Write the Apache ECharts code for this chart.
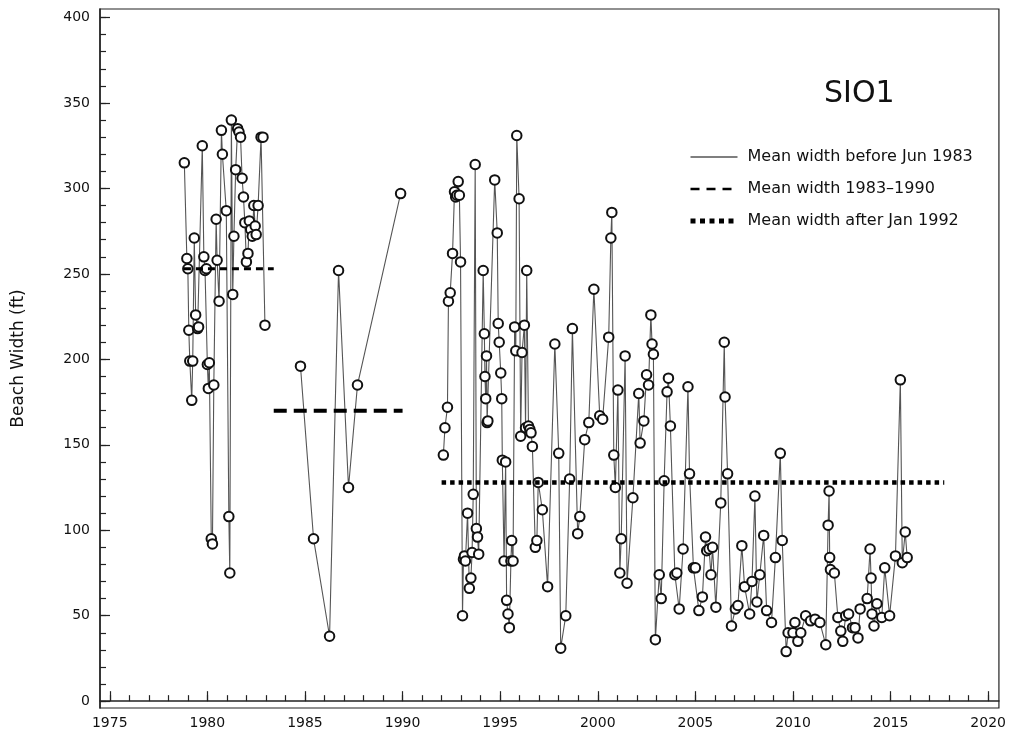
<!DOCTYPE html>
<html>
<head>
<meta charset="utf-8">
<title>SIO1 beach width</title>
<script src="https://cdn.jsdelivr.net/npm/echarts@6/dist/echarts.min.js"></script>
<style>
  html, body { margin: 0; padding: 0; background: #fff; }
  #chart { width: 1009px; height: 746px; }
</style>
</head>
<body>
<div id="chart"></div>
<script>
// survey data, [year, beach width ft]
const survey1979 = [
  [1978.82, 315], [1978.95, 259], [1979.0, 253], [1979.05, 217], [1979.1, 199], [1979.2, 176],
  [1979.25, 199], [1979.33, 271], [1979.4, 226], [1979.5, 218], [1979.55, 219], [1979.74, 325],
  [1979.82, 260], [1979.88, 252], [1979.95, 253], [1980.0, 197], [1980.05, 183], [1980.1, 198],
  [1980.2, 95], [1980.26, 92], [1980.33, 185], [1980.45, 282], [1980.5, 258], [1980.6, 234],
  [1980.72, 334], [1980.77, 320], [1980.97, 287], [1981.1, 108], [1981.15, 75], [1981.23, 340],
  [1981.3, 238], [1981.36, 272], [1981.45, 311], [1981.55, 335], [1981.62, 333], [1981.7, 330],
  [1981.78, 306], [1981.85, 295], [1981.92, 280], [1982.0, 257], [1982.08, 262], [1982.15, 281],
  [1982.22, 276], [1982.3, 272], [1982.38, 290], [1982.45, 278], [1982.5, 273], [1982.6, 290],
  [1982.75, 330], [1982.85, 330], [1982.95, 220]
];
const survey1985 = [
  [1984.77, 196], [1985.44, 95], [1986.26, 38], [1986.72, 252], [1987.23, 125], [1987.69, 185], [1989.9, 297]
];
const survey1992 = [
  [1992.09, 144], [1992.17, 160], [1992.3, 172], [1992.35, 234], [1992.44, 239], [1992.56, 262],
  [1992.66, 298], [1992.72, 295], [1992.78, 296], [1992.85, 304], [1992.91, 296], [1992.97, 257],
  [1993.07, 50], [1993.12, 83], [1993.17, 85], [1993.22, 82], [1993.33, 110], [1993.42, 66],
  [1993.5, 72], [1993.56, 87], [1993.62, 121], [1993.72, 314], [1993.78, 101], [1993.84, 96],
  [1993.9, 86], [1994.13, 252], [1994.19, 215], [1994.22, 190], [1994.26, 177], [1994.3, 202],
  [1994.33, 163], [1994.37, 164], [1994.72, 305], [1994.85, 274], [1994.9, 221], [1994.95, 210],
  [1995.03, 192], [1995.08, 177], [1995.11, 141], [1995.2, 82], [1995.28, 140], [1995.33, 59],
  [1995.4, 51], [1995.47, 43], [1995.55, 82], [1995.59, 94], [1995.66, 82], [1995.74, 219],
  [1995.8, 205], [1995.85, 331], [1995.97, 294], [1996.05, 155], [1996.12, 204], [1996.24, 220],
  [1996.3, 160], [1996.36, 252], [1996.45, 161], [1996.52, 159], [1996.58, 157], [1996.65, 149],
  [1996.8, 90], [1996.88, 94], [1996.95, 128], [1997.16, 112], [1997.43, 67], [1997.8, 209],
  [1998.0, 145], [1998.1, 31], [1998.36, 50], [1998.56, 130], [1998.7, 218], [1998.97, 98],
  [1999.08, 108], [1999.33, 153], [1999.54, 163], [1999.8, 241], [2000.1, 167], [2000.25, 165],
  [2000.56, 213], [2000.67, 271], [2000.72, 286], [2000.82, 144], [2000.9, 125], [2001.03, 182],
  [2001.13, 75], [2001.2, 95], [2001.4, 202], [2001.5, 69], [2001.8, 119], [2002.1, 180],
  [2002.17, 151], [2002.36, 164], [2002.5, 191], [2002.6, 185], [2002.72, 226], [2002.78, 209],
  [2002.85, 203], [2002.95, 36], [2003.15, 74], [2003.25, 60], [2003.4, 129], [2003.55, 181],
  [2003.62, 189], [2003.72, 161], [2003.95, 74], [2004.05, 75], [2004.17, 54], [2004.37, 89],
  [2004.62, 184], [2004.7, 133], [2004.9, 78], [2005.0, 78], [2005.18, 53], [2005.36, 61],
  [2005.52, 96], [2005.58, 88], [2005.7, 89], [2005.8, 74], [2005.88, 90], [2006.05, 55],
  [2006.3, 116], [2006.48, 210], [2006.52, 178], [2006.65, 133], [2006.85, 44], [2007.05, 54],
  [2007.18, 56], [2007.38, 91], [2007.52, 67], [2007.78, 51], [2007.9, 70], [2008.05, 120],
  [2008.15, 58], [2008.3, 74], [2008.5, 97], [2008.65, 53], [2008.9, 46], [2009.1, 84],
  [2009.35, 145], [2009.45, 94], [2009.65, 29], [2009.75, 40], [2010.0, 40], [2010.1, 46],
  [2010.25, 35], [2010.4, 40], [2010.65, 50], [2010.9, 47], [2011.13, 48], [2011.38, 46],
  [2011.68, 33], [2011.8, 103], [2011.85, 123], [2011.88, 84], [2011.92, 77], [2012.12, 75],
  [2012.3, 49], [2012.45, 41], [2012.55, 35], [2012.7, 50], [2012.85, 51], [2013.05, 43],
  [2013.18, 43], [2013.33, 37], [2013.44, 54], [2013.8, 60], [2013.95, 89], [2014.0, 72],
  [2014.05, 51], [2014.15, 44], [2014.3, 57], [2014.55, 49], [2014.7, 78], [2014.95, 50],
  [2015.25, 85], [2015.5, 188], [2015.6, 81], [2015.75, 99], [2015.85, 84]
];

// mean widths and the years they cover
const meanNames = ['Mean width before Jun 1983', 'Mean width 1983\u20131990', 'Mean width after Jan 1992'];
const meanValues = [253, 170, 128];
const meanSpans = [[1978.8, 1983.4], [1983.4, 1990.0], [1992.0, 2017.75]];

const yearLabels = [1975, 1980, 1985, 1990, 1995, 2000, 2005, 2010, 2015, 2020];
const yearTicks = [];
for (let y = 1975; y <= 2020; y++) yearTicks.push(y);
const widthLabels = [0, 50, 100, 150, 200, 250, 300, 350, 400];
const widthTicks = [];
for (let v = 0; v <= 400; v += 10) widthTicks.push(v);

const FONT = 'DejaVu Sans';
const meanStyles = [
  { width: 3, type: [7, 5] },
  { width: 4, type: [13, 7] },
  { width: 4.5, type: [4.5, 4] }
];
// the key shows the means drawn differently from the plot
const keyStyles = [
  { width: 1.2, type: 'solid' },
  { width: 2.5, type: [9, 7] },
  { width: 5, type: [5, 4.5] }
];

const surveySeries = [survey1979, survey1985, survey1992].map(d => ({
  type: 'line',
  data: d,
  symbol: 'emptyCircle',
  symbolSize: 9.5,
  showSymbol: true,
  lineStyle: { color: '#555', width: 1.1 },
  itemStyle: { color: '#111', borderColor: '#111', borderWidth: 1.3 },
  z: 2
}));

const meanSeries = meanValues.map((v, i) => ({
  name: meanNames[i],
  type: 'line',
  data: [[meanSpans[i][0], v], [meanSpans[i][1], v]],
  symbol: 'none',
  color: '#000',
  itemStyle: { color: '#000' },
  lineStyle: { color: '#000', width: meanStyles[i].width, type: meanStyles[i].type, cap: 'butt' },
  z: 3
}));

const chart = echarts.init(document.getElementById('chart'));
chart.setOption({
  animation: false,
  backgroundColor: '#fff',
  textStyle: { fontFamily: FONT },
  title: {
    text: 'SIO1',
    left: 819,
    top: 74,
    textStyle: { fontFamily: FONT, fontSize: 30, fontWeight: 'normal', color: '#111' }
  },
  grid: {
    left: 100, right: 10, top: 9, bottom: 38,
    show: true, borderColor: '#222', borderWidth: 1.2, backgroundColor: 'transparent'
  },
  xAxis: [
    {
      type: 'value', min: 1974.5, max: 2020.55, position: 'bottom',
      axisLine: { show: true, lineStyle: { color: '#222', width: 1.5 } },
      axisTick: { show: true, inside: true, length: 10, customValues: yearLabels, lineStyle: { color: '#222', width: 1.2 } },
      axisLabel: { customValues: yearLabels, margin: 8, fontFamily: FONT, fontSize: 14, color: '#111', formatter: v => String(v) },
      splitLine: { show: false }
    },
    {
      type: 'value', min: 1974.5, max: 2020.55, position: 'bottom',
      axisLine: { show: false },
      axisTick: { show: true, inside: true, length: 6, customValues: yearTicks, lineStyle: { color: '#222', width: 1.2 } },
      axisLabel: { show: false },
      splitLine: { show: false }
    }
  ],
  yAxis: [
    {
      type: 'value', min: -4, max: 405, position: 'left',
      name: 'Beach Width (ft)', nameLocation: 'middle', nameGap: 73, nameRotate: 90,
      nameTextStyle: { fontFamily: FONT, fontSize: 17, color: '#111' },
      axisLine: { show: true, lineStyle: { color: '#222', width: 1.5 } },
      axisTick: { show: true, inside: true, length: 10, customValues: widthLabels, lineStyle: { color: '#222', width: 1.2 } },
      axisLabel: { customValues: widthLabels, margin: 10, fontFamily: FONT, fontSize: 14, color: '#111' },
      splitLine: { show: false }
    },
    {
      type: 'value', min: -4, max: 405, position: 'left',
      axisLine: { show: false },
      axisTick: { show: true, inside: true, length: 6, customValues: widthTicks, lineStyle: { color: '#222', width: 1.2 } },
      axisLabel: { show: false },
      splitLine: { show: false }
    }
  ],
  legend: {
    show: true,
    orient: 'vertical',
    left: 683,
    top: 144,
    itemWidth: 47,
    itemHeight: 16,
    itemGap: 16,
    selectedMode: false,
    data: meanNames.map((n, i) => ({
      name: n,
      itemStyle: { opacity: 0 },
      lineStyle: { color: '#000', width: keyStyles[i].width, type: keyStyles[i].type, cap: 'butt' }
    })),
    textStyle: { fontFamily: FONT, fontSize: 16, color: '#111', padding: [0, 0, 0, 5] }
  },
  series: surveySeries.concat(meanSeries)
});
</script>
</body>
</html>
